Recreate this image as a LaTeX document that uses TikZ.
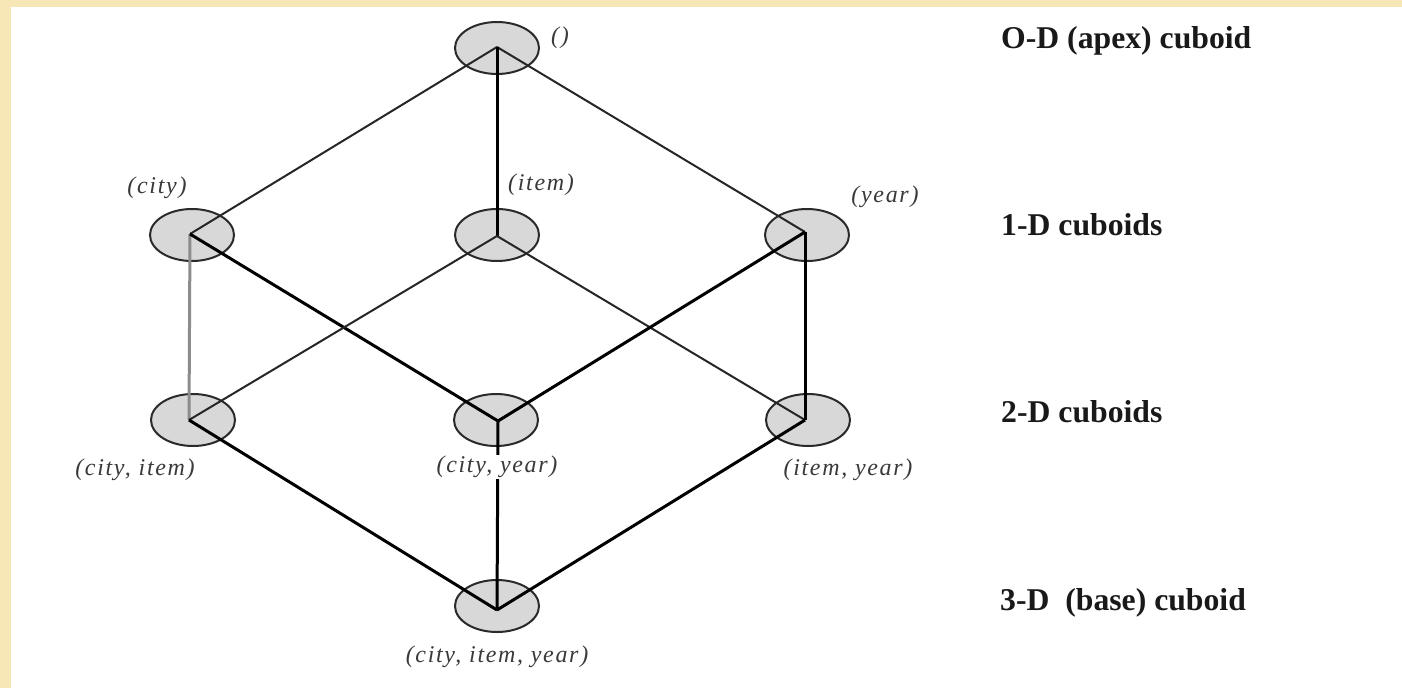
\documentclass[tikz,border=0pt]{standalone}
\usepackage{fontspec}
\setmainfont{Liberation Serif}
\usetikzlibrary{shapes.geometric}
\definecolor{cream}{HTML}{F8E7B6}
\definecolor{cubefill}{HTML}{D8D8D8}
\definecolor{cubeline}{HTML}{2A2A2A}
\definecolor{labgray}{HTML}{3A3A3A}
\begin{document}
\begin{tikzpicture}[x=1pt,y=-1pt,
  cube/.style={ellipse,draw=cubeline,line width=2pt,fill=cubefill,minimum width=84pt,minimum height=52pt,inner sep=0pt},
  thinedge/.style={line width=2pt,draw=black!85},
  thickedge/.style={line width=3pt,draw=black},
  grayedge/.style={line width=3pt,draw=black!45},
  dimlab/.style={font=\fontsize{24}{26}\selectfont\itshape\addfontfeature{LetterSpace=7},text=labgray,inner sep=1pt},
  levlab/.style={font=\fontsize{31.7}{33}\selectfont\bfseries,text=black!90,anchor=west,inner sep=0pt}]
\useasboundingbox (0,0) rectangle (1402,688);
\fill[cream] (0,0) rectangle (1402,688);
\fill[white] (11,7) rectangle (1402,688);
% cuboid ellipses
\node[cube] (apex) at (497,48) {};
\node[cube] (city) at (192,235) {};
\node[cube] (item) at (497,235) {};
\node[cube] (year) at (807,235) {};
\node[cube] (ci) at (193,420) {};
\node[cube] (cy) at (496,420) {};
\node[cube] (iy) at (808,420) {};
\node[cube] (base) at (497,606) {};
% vertices where lines meet
\coordinate (apexv) at (497,47);
\coordinate (cityv) at (190,234);
\coordinate (itemv) at (497,236);
\coordinate (yearv) at (805,232);
\coordinate (civ) at (189,420);
\coordinate (cyv) at (498,421);
\coordinate (iyv) at (805,420);
\coordinate (basev) at (497,610);
% edges
\draw[thinedge] (apexv) -- (cityv);
\draw[thinedge] (apexv) -- (yearv);
\draw[thickedge] (apexv) -- (itemv);
\draw[grayedge] (cityv) -- (civ);
\draw[thickedge] (cityv) -- (cyv);
\draw[thinedge] (itemv) -- (civ);
\draw[thinedge] (itemv) -- (iyv);
\draw[thickedge] (yearv) -- (cyv);
\draw[thickedge] (yearv) -- (iyv);
\draw[thickedge] (civ) -- (basev);
\draw[thickedge] (cyv) -- (basev);
\draw[thickedge] (iyv) -- (basev);
% dimension labels
\node[dimlab] (lapex) at (560,38) {()};
\node[dimlab] (lcity) at (157,188) {(city)};
\node[dimlab] (litem) at (541,185) {(item)};
\node[dimlab] (lyear) at (885,197) {(year)};
\node[dimlab] (lci) at (135,470) {(city, item)};
\node[dimlab,fill=white] (lcy) at (497,467) {(city, year)};
\node[dimlab] (liy) at (848,470) {(item, year)};
\node[dimlab] (lbase) at (497,657) {(city, item, year)};
% level labels
\node[levlab] (l0) at (1001,41) {O-D (apex) cuboid};
\node[levlab] (l1) at (1001,225) {1-D cuboids};
\node[levlab] (l2) at (1001,412) {2-D cuboids};
\node[levlab] (l3) at (1000,603) {3-D\ \ (base) cuboid};
\end{tikzpicture}
\end{document}
